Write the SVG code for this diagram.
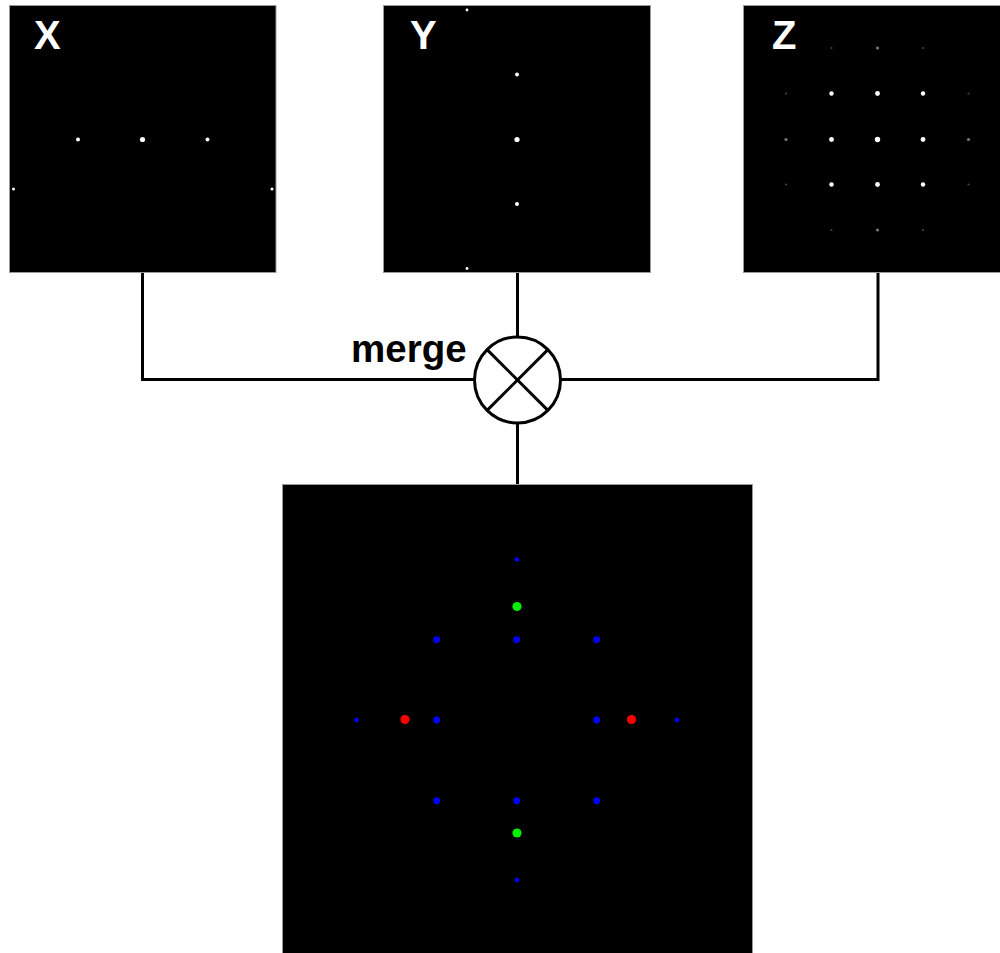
<svg xmlns="http://www.w3.org/2000/svg" width="1000" height="953" viewBox="0 0 1000 953">
<style>
.panel{fill:#000;stroke:#9a9a9a;stroke-width:1}
.lbl{font-family:"Liberation Sans",Arial,sans-serif;font-weight:bold;font-size:40px;fill:#fff}
.w{fill:#fff}
.dim{fill:#777}
.faint{fill:#444}
.wire{fill:none;stroke:#000;stroke-width:3}
.b{fill:#0000ff}
.r{fill:#ff0000}
.g{fill:#00ee00}
</style>
<rect width="1000" height="953" fill="#fff"/>
<g id="connectors">
<polyline class="wire" points="142.5,273 142.5,379.5 474.5,379.5"/>
<line class="wire" x1="517.5" y1="273" x2="517.5" y2="336"/>
<polyline class="wire" points="561,379.5 878,379.5 878,273"/>
<line class="wire" x1="517.5" y1="423" x2="517.5" y2="485"/>
</g>
<g id="panel-x">
<rect class="panel" x="9.5" y="5.5" width="266.5" height="267"/>
<text class="lbl" x="34" y="49">X</text>
<circle class="w" cx="142.5" cy="139.5" r="2.6"/>
<circle class="w" cx="78" cy="139.5" r="2"/>
<circle class="w" cx="207.5" cy="139.5" r="2"/>
<circle class="w" cx="13.5" cy="189" r="1.5"/>
<circle class="w" cx="272" cy="189" r="1.5"/>
</g>
<g id="panel-y">
<rect class="panel" x="383.5" y="5.5" width="267" height="267"/>
<text class="lbl" x="410" y="49">Y</text>
<circle class="w" cx="517" cy="139.5" r="2.6"/>
<circle class="w" cx="517" cy="74.5" r="2"/>
<circle class="w" cx="517" cy="204" r="2"/>
<circle class="w" cx="467" cy="10" r="1.4"/>
<circle class="w" cx="467" cy="268.5" r="1.4"/>
</g>
<g id="panel-z">
<rect class="panel" x="743.5" y="5.5" width="267" height="267"/>
<text class="lbl" x="772" y="49">Z</text>
<circle class="w" cx="877.5" cy="139.5" r="2.7"/>
<circle class="w" cx="877.5" cy="93.5" r="2.4"/>
<circle class="w" cx="877.5" cy="184.5" r="2.4"/>
<circle class="w" cx="831.5" cy="139.5" r="2.4"/>
<circle class="w" cx="923" cy="139.5" r="2.4"/>
<circle class="w" cx="831.5" cy="93.5" r="2.2"/>
<circle class="w" cx="923" cy="93.5" r="2.2"/>
<circle class="w" cx="831.5" cy="184.5" r="2.2"/>
<circle class="w" cx="923" cy="184.5" r="2.2"/>
<circle class="dim" cx="877.5" cy="48" r="1.6"/>
<circle class="dim" cx="877.5" cy="230" r="1.6"/>
<circle class="dim" cx="786" cy="139.5" r="1.6"/>
<circle class="dim" cx="968.5" cy="139.5" r="1.6"/>
<circle class="faint" cx="831.5" cy="48" r="1.1"/>
<circle class="faint" cx="923" cy="48" r="1.1"/>
<circle class="faint" cx="831.5" cy="230" r="1.1"/>
<circle class="faint" cx="923" cy="230" r="1.1"/>
<circle class="faint" cx="786" cy="93.5" r="1.1"/>
<circle class="faint" cx="786" cy="184.5" r="1.1"/>
<circle class="faint" cx="968.5" cy="93.5" r="1.1"/>
<circle class="faint" cx="968.5" cy="184.5" r="1.1"/>
</g>
<g id="merge">
<circle cx="517.5" cy="380" r="43" fill="#fff" stroke="#000" stroke-width="3"/>
<line class="wire" x1="487.1" y1="349.6" x2="547.9" y2="410.4"/>
<line class="wire" x1="547.9" y1="349.6" x2="487.1" y2="410.4"/>
<text x="351" y="362" font-family="'Liberation Sans',Arial,sans-serif" font-weight="bold" font-size="38.5" fill="#000">merge</text>
</g>
<g id="panel-out">
<rect class="panel" x="282.5" y="484.5" width="470" height="475"/>
<circle class="b" cx="517" cy="559.5" r="2.3"/>
<circle class="b" cx="517" cy="880" r="2.3"/>
<circle class="b" cx="356.5" cy="720" r="2.3"/>
<circle class="b" cx="677" cy="720" r="2.3"/>
<circle class="g" cx="517" cy="606.5" r="4.6"/>
<circle class="g" cx="517" cy="833" r="4.6"/>
<circle class="r" cx="405" cy="719.5" r="4.6"/>
<circle class="r" cx="631.5" cy="719.5" r="4.6"/>
<circle class="b" cx="436.7" cy="639.7" r="3.4"/>
<circle class="b" cx="516.7" cy="639.7" r="3.4"/>
<circle class="b" cx="596.7" cy="639.7" r="3.4"/>
<circle class="b" cx="436.7" cy="720" r="3.4"/>
<circle class="b" cx="596.7" cy="720" r="3.4"/>
<circle class="b" cx="436.7" cy="800.7" r="3.4"/>
<circle class="b" cx="516.7" cy="800.7" r="3.4"/>
<circle class="b" cx="596.7" cy="800.7" r="3.4"/>
</g>
</svg>
